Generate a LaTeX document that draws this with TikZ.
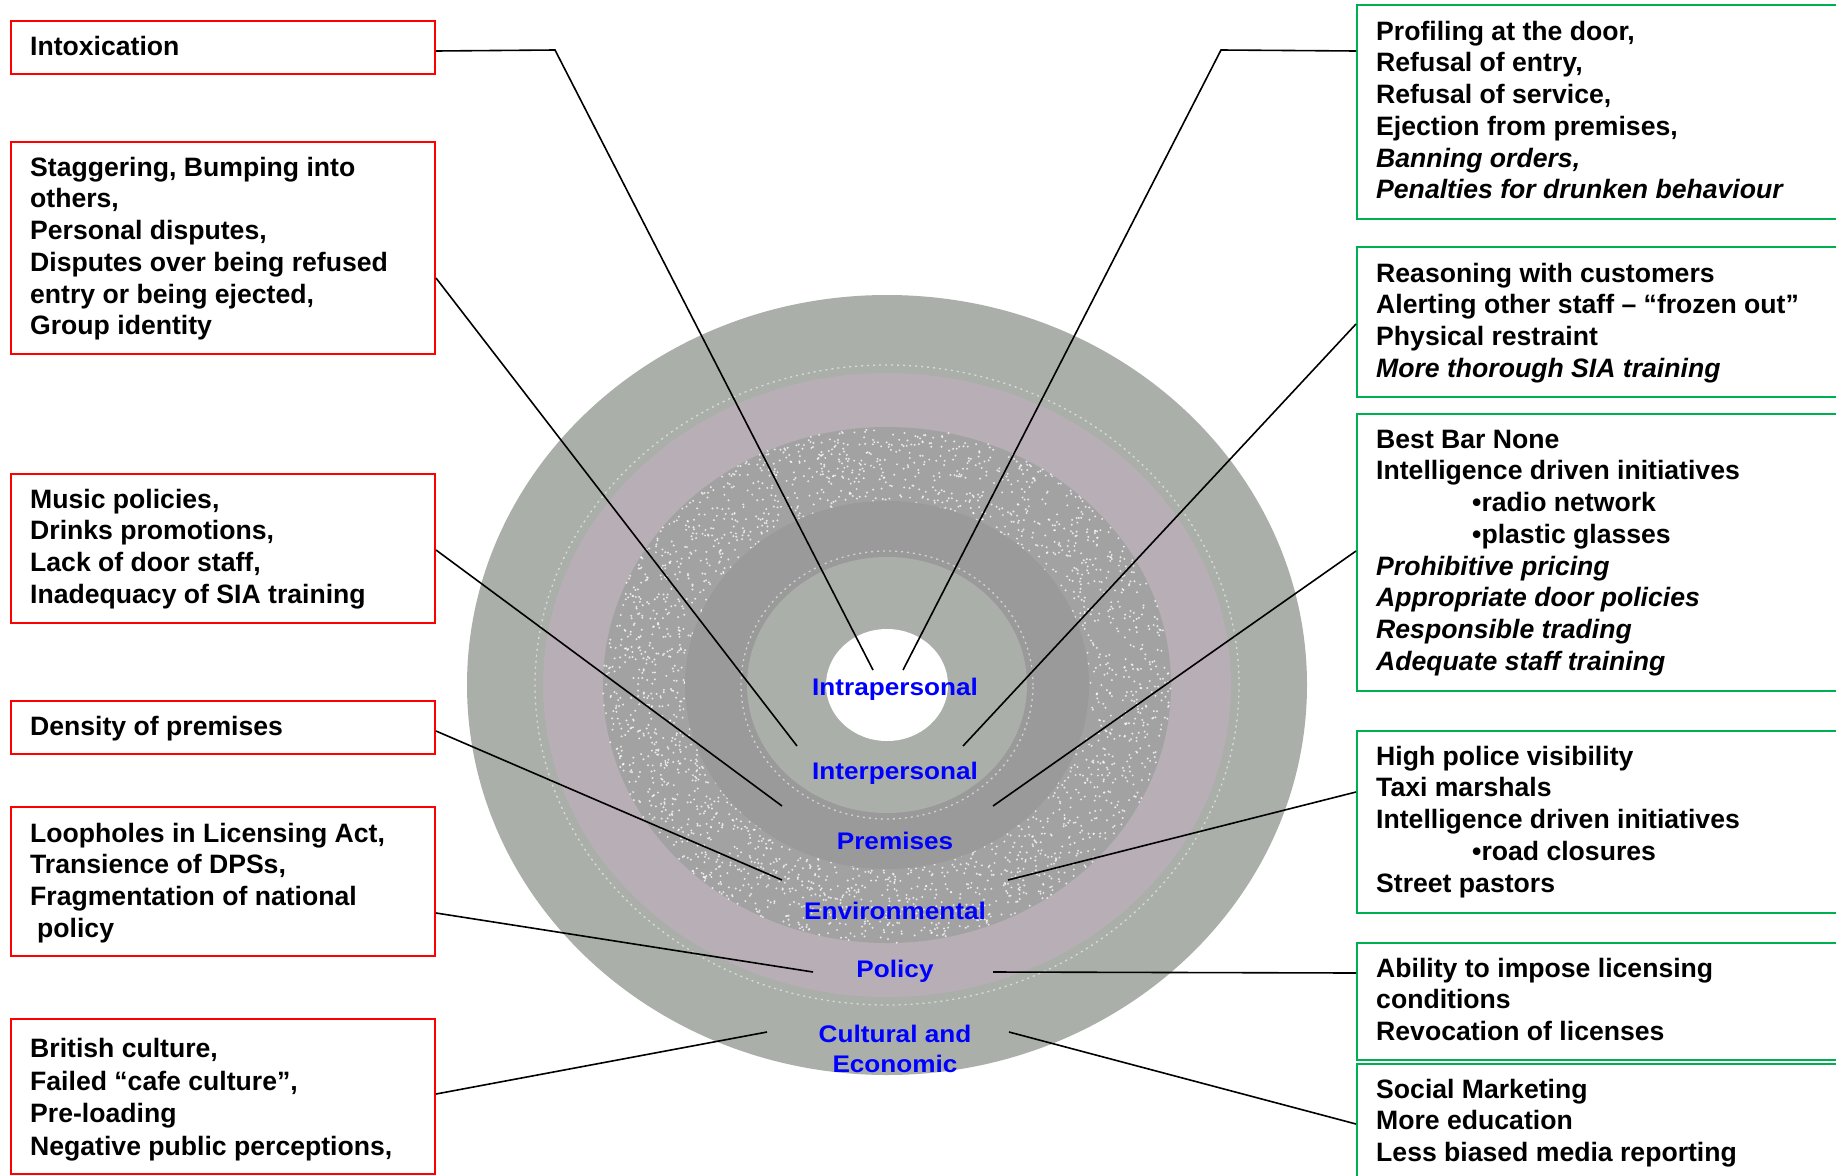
\documentclass[tikz,border=0pt]{standalone}
\usepackage{fontspec}
\setmainfont{Liberation Sans}
\newfontfamily\lblfont[FakeStretch=1.09]{Liberation Sans}
\usetikzlibrary{calc}
\definecolor{ringout}{HTML}{ABAFAA}
\definecolor{ringmauve}{HTML}{B8AEB5}
\definecolor{ringspeck}{HTML}{A2A2A2}
\definecolor{ringdark}{HTML}{9A9A9A}
\definecolor{lblue}{HTML}{0000FF}
\definecolor{boxgreen}{HTML}{00B050}
\begin{document}
\begin{tikzpicture}[x=1pt,y=-1pt,
  redbox/.style={draw=red, line width=2pt, inner sep=0pt, anchor=north west},
  greenbox/.style={draw=boxgreen, line width=2pt, inner sep=0pt, anchor=north west, minimum width=494pt},
  txt/.style={anchor=north west, inner sep=0pt, align=left, font=\fontsize{26.6}{31.7}\selectfont\bfseries},
  lbl/.style={anchor=base, inner sep=0pt, text=lblue, font=\lblfont\bfseries\fontsize{24}{30}\selectfont},
  conn/.style={draw=black, line width=1.6pt},
  seam/.style={draw=white, opacity=0.55, line width=1.3pt, dash pattern=on 2pt off 4pt}]
\useasboundingbox (0,0) rectangle (1836,1175);
\clip (0,0) rectangle (1836,1175);
\fill[white] (0,0) rectangle (1836,1175);

% ---- rings ----
\fill[ringout] (887,685) ellipse [x radius=420pt, y radius=390pt];
\draw[seam] (887,685) ellipse [x radius=352pt, y radius=320pt];
\fill[ringmauve] (887,685) ellipse [x radius=344pt, y radius=312pt];
\fill[ringspeck] (887,685) ellipse [x radius=284pt, y radius=258pt];
\pgfmathsetseed{7}
\foreach \i in {1,...,2400}{
  \pgfmathsetmacro{\ang}{rnd*360}
  \pgfmathsetmacro{\tt}{sqrt(0.5055+rnd*0.4945)}
  \fill[white, opacity=0.75] ({887+284*\tt*cos(\ang)},{685+258*\tt*sin(\ang)}) circle[radius=1.1pt];
}
\fill[ringdark] (887,685) ellipse [x radius=202pt, y radius=184pt];
\draw[seam] (887,685) ellipse [x radius=146pt, y radius=134pt];
\fill[ringout] (887,685) ellipse [x radius=140pt, y radius=128pt];
\fill[white] (887,685) ellipse [x radius=61pt, y radius=56pt];

% ---- left boxes ----
\node[redbox, minimum width=424pt, minimum height=53pt] (bintox) at (10,20) {};
\node[txt] (tintox) at (30,33) {\rule{0pt}{22pt}Intoxication};

\node[redbox, minimum width=424pt, minimum height=212pt] (bstag) at (10,141) {};
\node[txt] (tstag) at (30,154) {\rule{0pt}{22pt}Staggering, Bumping into\\others,\\Personal disputes,\\Disputes over being refused\\entry or being ejected,\\Group identity};

\node[redbox, minimum width=424pt, minimum height=149pt] (bmusic) at (10,473) {};
\node[txt] (tmusic) at (30,486) {\rule{0pt}{22pt}Music policies,\\Drinks promotions,\\Lack of door staff,\\Inadequacy of SIA training};

\node[redbox, minimum width=424pt, minimum height=53pt] (bdens) at (10,700) {};
\node[txt] (tdens) at (30,713) {\rule{0pt}{22pt}Density of premises};

\node[redbox, minimum width=424pt, minimum height=149pt] (bloop) at (10,806) {};
\node[txt] (tloop) at (30,820) {\rule{0pt}{22pt}Loopholes in Licensing Act,\\Transience of DPSs,\\Fragmentation of national\\\hspace*{7pt}policy};

\node[redbox, minimum width=424pt, minimum height=155pt] (bbrit) at (10,1018) {};
\node[txt, font=\fontsize{26.6}{32.8}\selectfont\bfseries] (tbrit) at (30,1035) {\rule{0pt}{22pt}British culture,\\Failed “cafe culture”,\\Pre-loading\\Negative public perceptions,};

% ---- right boxes ----
\node[greenbox, minimum height=214pt] (bprof) at (1356,4) {};
\node[txt] (tprof) at (1376,18) {\rule{0pt}{22pt}Profiling at the door,\\Refusal of entry,\\Refusal of service,\\Ejection from premises,\\\textit{Banning orders,}\\\textit{Penalties for drunken behaviour}};

\node[greenbox, minimum height=150pt] (breas) at (1356,246) {};
\node[txt] (treas) at (1376,260) {\rule{0pt}{22pt}Reasoning with customers\\Alerting other staff – “frozen out”\\Physical restraint\\\textit{More thorough SIA training}};

\node[greenbox, minimum height=277pt] (bbest) at (1356,413) {};
\node[txt] (tbest) at (1376,426) {\rule{0pt}{22pt}Best Bar None\\Intelligence driven initiatives\\\hspace*{96pt}•radio network\\\hspace*{96pt}•plastic glasses\\\textit{Prohibitive pricing}\\\textit{Appropriate door policies}\\\textit{Responsible trading}\\\textit{Adequate staff training}};

\node[greenbox, minimum height=182pt] (bhigh) at (1356,730) {};
\node[txt] (thigh) at (1376,743) {\rule{0pt}{22pt}High police visibility\\Taxi marshals\\Intelligence driven initiatives\\\hspace*{96pt}•road closures\\Street pastors};

\node[greenbox, minimum height=117pt] (babil) at (1356,942) {};
\node[txt] (tabil) at (1376,955) {\rule{0pt}{22pt}Ability to impose licensing\\conditions\\Revocation of licenses};

\node[greenbox, minimum height=130pt] (bsoc) at (1356,1063) {};
\node[txt] (tsoc) at (1376,1076) {\rule{0pt}{22pt}Social Marketing\\More education\\Less biased media reporting};

% ---- connector points ----
\coordinate (k1) at (555,50);
\coordinate (k2) at (1221,50);
\coordinate (e1L) at (873,670);  \coordinate (e1R) at (903,670);
\coordinate (e2L) at (797,746);  \coordinate (e2R) at (963,746);
\coordinate (e3L) at (782,806);  \coordinate (e3R) at (993,806);
\coordinate (e4L) at (782,880);  \coordinate (e4R) at (1008,880);
\coordinate (e5L) at (813,972);  \coordinate (e5R) at (993,972);
\coordinate (e6L) at (767,1032); \coordinate (e6R) at (1009,1032);

\draw[conn] ([yshift=-3.5pt]bintox.east) -- (k1) -- (e1L);
\draw[conn] ([yshift=61pt]bprof.west) -- (k2) -- (e1R);
\draw[conn] ([yshift=-30pt]bstag.east) -- (e2L);
\draw[conn] ([yshift=-2pt]breas.west) -- (e2R);
\draw[conn] ([yshift=-1.5pt]bmusic.east) -- (e3L);
\draw[conn] ([yshift=1.5pt]bbest.west) -- (e3R);
\draw[conn] ([yshift=-3.5pt]bdens.east) -- (e4L);
\draw[conn] ([yshift=30pt]bhigh.west) -- (e4R);
\draw[conn] ([yshift=-31.5pt]bloop.east) -- (e5L);
\draw[conn] ([yshift=28.5pt]babil.west) -- (e5R);
\draw[conn] ([yshift=2.5pt]bbrit.east) -- (e6L);
\draw[conn] ([yshift=5pt]bsoc.west) -- (e6R);

% ---- ring labels ----
\node[lbl] (lintra) at (895,695) {Intrapersonal};
\node[lbl] (linter) at (895,779) {Interpersonal};
\node[lbl] (lprem) at (895,849) {Premises};
\node[lbl] (lenv) at (895,919) {Environmental};
\node[lbl] (lpol) at (895,977) {Policy};
\node[lbl, anchor=north, align=center] (lcult) at (895,1022) {\rule{0pt}{20pt}Cultural and\\Economic};
\end{tikzpicture}
\end{document}
